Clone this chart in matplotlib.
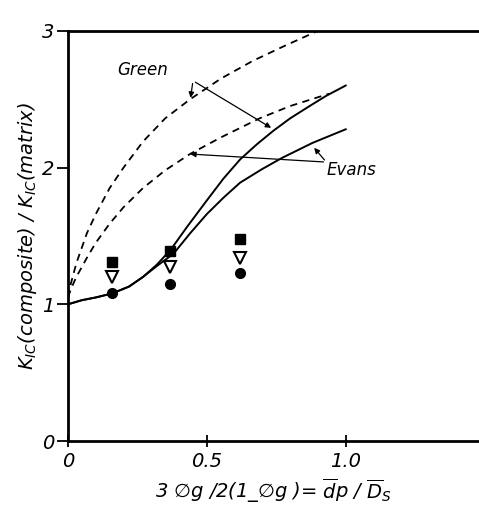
import matplotlib
matplotlib.use("Agg")
import matplotlib.pyplot as plt

plt.rcParams["mathtext.default"] = "it"

# theory curves
green_solid_x = [0, 0.05, 0.1, 0.16, 0.22, 0.27, 0.32, 0.37, 0.43, 0.5, 0.56, 0.62,
                 0.68, 0.74, 0.8, 0.87, 0.93, 1.0]
green_solid_y = [1.0, 1.03, 1.05, 1.08, 1.13, 1.20, 1.29, 1.40, 1.57, 1.76, 1.92, 2.06,
                 2.17, 2.27, 2.36, 2.45, 2.525, 2.6]
evans_solid_x = [0, 0.05, 0.1, 0.16, 0.22, 0.27, 0.32, 0.38, 0.44, 0.5, 0.56, 0.62,
                 0.7, 0.77, 0.83, 0.88, 0.94, 1.0]
evans_solid_y = [1.0, 1.03, 1.05, 1.08, 1.13, 1.20, 1.28, 1.37, 1.52, 1.66, 1.78, 1.89,
                 1.99, 2.07, 2.13, 2.18, 2.23, 2.28]
green_dash_x = [0, 0.01, 0.03, 0.068, 0.1, 0.15, 0.2, 0.27, 0.35, 0.44, 0.55, 0.665,
                0.78, 0.9]
green_dash_y = [1.05, 1.15, 1.30, 1.52, 1.66, 1.85, 2.0, 2.19, 2.36, 2.5, 2.65, 2.78,
                2.89, 3.0]
evans_dash_x = [0, 0.01, 0.03, 0.068, 0.1, 0.15, 0.2, 0.27, 0.35, 0.44, 0.55, 0.69,
                0.8, 0.94]
evans_dash_y = [1.05, 1.11, 1.2, 1.34, 1.45, 1.59, 1.71, 1.85, 1.98, 2.10, 2.22, 2.36,
                2.45, 2.54]

# measured points
pts_x = [0.158, 0.367, 0.619]
squares = [1.31, 1.39, 1.48]
triangles = [1.20, 1.27, 1.34]
circles = [1.08, 1.15, 1.23]

fig = plt.figure(figsize=(4.79, 5.14), dpi=100)
ax = fig.add_axes([0.142, 0.142, 0.858, 0.798])

ax.plot(green_solid_x, green_solid_y, color="black", lw=1.4)
ax.plot(evans_solid_x, evans_solid_y, color="black", lw=1.4)
ax.plot(green_dash_x, green_dash_y, color="black", lw=1.3, ls=(0, (4, 3)))
ax.plot(evans_dash_x, evans_dash_y, color="black", lw=1.3, ls=(0, (4, 3)))

ax.plot(pts_x, squares, "s", color="black", ms=7, ls="none")
ax.plot(pts_x, triangles, "v", mfc="white", mec="black", mew=1.5, ms=8, ls="none")
ax.plot(pts_x, circles, "o", color="black", ms=7, ls="none")

ax.set_xlim(0, 1.48)
ax.set_ylim(0, 3)
ax.set_xticks([0, 0.5, 1.0])
ax.set_xticklabels(["0", "0.5", "1.0"])
ax.set_yticks([0, 1, 2, 3])
ax.set_yticklabels(["0", "1", "2", "3"])
for lab in ax.get_xticklabels() + ax.get_yticklabels():
    lab.set_style("italic")
    lab.set_fontsize(14)
ax.tick_params(axis="x", direction="inout", length=8, width=1.3, pad=4)
ax.tick_params(axis="y", direction="out", length=8, width=1.3, pad=2)

ax.spines["right"].set_visible(False)
for s in ["left", "bottom", "top"]:
    ax.spines[s].set_linewidth(2)

ax.set_ylabel("$K_{IC}$(composite) / $K_{IC}$(matrix)", fontsize=14,
              style="italic", labelpad=2)
ax.set_xlabel(r"3 $\varnothing$g /2(1_$\varnothing$g )= $\overline{d}$p / $\overline{D}_S$",
              fontsize=14, style="italic", labelpad=4)

ap = dict(arrowstyle="-|>", color="black", lw=0.9, mutation_scale=8)
ax.text(0.27, 2.68, "Green", fontsize=12, style="italic", ha="center")
ax.annotate("", xy=(0.44, 2.49), xytext=(0.45, 2.635), arrowprops=ap)
ax.annotate("", xy=(0.74, 2.28), xytext=(0.45, 2.635), arrowprops=ap)
ax.text(1.02, 1.98, "Evans", fontsize=12, style="italic", ha="center", va="center")
ax.annotate("", xy=(0.43, 2.10), xytext=(0.93, 2.04), arrowprops=ap)
ax.annotate("", xy=(0.88, 2.16), xytext=(0.93, 2.04), arrowprops=ap)

fig.savefig("out.png", dpi=100)
